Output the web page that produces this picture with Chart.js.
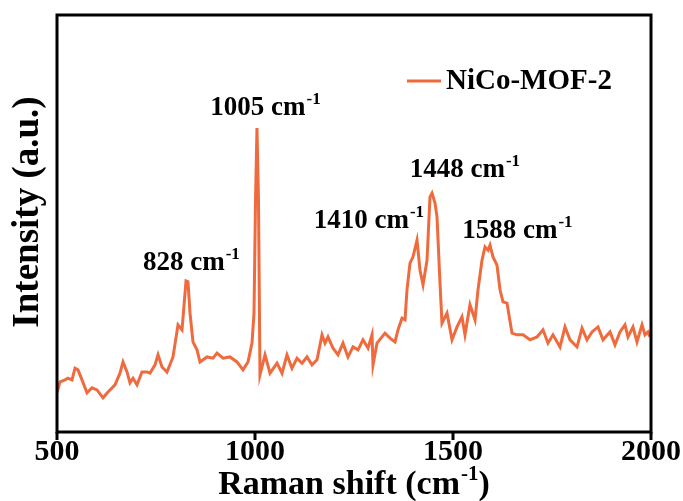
<!DOCTYPE html>
<html>
<head>
<meta charset="utf-8">
<script src="https://cdn.jsdelivr.net/npm/chart.js@4.4.1/dist/chart.umd.min.js"></script>
<style>
  html, body { margin: 0; padding: 0; background: #ffffff; }
  #wrap { width: 683px; height: 501px; position: relative; }
</style>
</head>
<body>
<div id="wrap"><canvas id="c" width="683" height="501"></canvas></div>
<script>
// ---- data ----
const seriesName = 'NiCo-MOF-2';
const ramanShift = [
  500, 507.6, 520.2, 527.8, 537.9, 545.5, 553.0, 563.1, 575.8, 588.4,
  601.0, 616.2, 628.8, 646.5, 659.1, 666.7, 676.8, 684.3, 691.9, 702.0,
  714.6, 727.3, 734.8, 747.5, 755.1, 765.2, 777.8, 792.9, 805.6, 815.7,
  825.8, 830.8, 835.9, 843.4, 853.5, 861.1, 878.8, 894.0, 904.0, 919.2,
  936.9, 954.5, 969.7, 982.3, 992.4, 997.5, 1001.3, 1005, 1008.8, 1012.6,
  1025.3, 1037.9, 1055.6, 1068.2, 1080.8, 1093.4, 1106.1, 1118.7, 1131.3, 1143.9,
  1156.6, 1169.2, 1176.8, 1184.3, 1197.0, 1209.6, 1222.2, 1234.8, 1247.5, 1260.1,
  1272.7, 1285.4, 1295.5, 1298.0, 1308.1, 1320.7, 1328.3, 1340.9, 1353.5, 1361.1,
  1371.2, 1378.8, 1383.8, 1391.4, 1399.0, 1409.1, 1416.7, 1424.3, 1434.4, 1441.9,
  1447.0, 1454.5, 1459.6, 1467.2, 1472.2, 1484.9, 1497.5, 1510.1, 1522.7, 1530.3,
  1542.9, 1555.6, 1563.1, 1573.2, 1580.8, 1588.4, 1593.4, 1601.0, 1611.1, 1618.7,
  1626.3, 1636.4, 1649.0, 1661.6, 1676.8, 1694.5, 1712.1, 1727.3, 1739.9, 1752.5,
  1770.2, 1782.8, 1795.5, 1813.2, 1825.8, 1838.4, 1851.0, 1866.2, 1878.8, 1896.5,
  1909.1, 1921.7, 1934.3, 1941.9, 1954.5, 1964.6, 1977.3, 1984.8, 1992.4, 1997.5
];
const intensity = [
  9.4, 12.0, 12.5, 12.9, 12.5, 15.3, 14.9, 12.5, 9.4, 10.6,
  10.1, 8.2, 9.6, 11.3, 14.1, 16.8, 14.4, 11.8, 12.9, 11.3,
  14.4, 14.4, 14.1, 16.1, 18.5, 15.6, 14.4, 18.0, 25.7, 24.5,
  36.2, 36.0, 28.5, 21.6, 19.7, 16.8, 18.0, 17.7, 18.9, 17.7,
  18.0, 16.8, 14.9, 16.8, 21.3, 28.5, 55.6, 72.9, 55.6, 13.7,
  18.5, 14.1, 16.5, 14.1, 18.5, 15.3, 17.7, 16.5, 18.0, 16.1,
  17.3, 23.3, 21.3, 22.8, 20.1, 18.5, 21.3, 18.0, 20.4, 19.7,
  22.1, 20.1, 23.3, 16.1, 21.3, 22.8, 23.7, 22.5, 21.6, 24.5,
  27.3, 26.9, 34.1, 40.5, 42.0, 46.0, 38.8, 35.3, 41.2, 56.4,
  57.3, 54.9, 51.6, 35.7, 26.1, 28.5, 22.1, 25.2, 27.6, 23.3,
  30.5, 26.9, 34.1, 41.2, 44.4, 43.6, 44.8, 42.0, 40.0, 34.1,
  31.2, 30.9, 23.7, 23.3, 23.3, 22.1, 22.8, 24.5, 21.3, 23.3,
  20.4, 25.2, 22.1, 20.4, 24.9, 22.1, 24.0, 25.2, 22.1, 24.0,
  20.9, 24.0, 25.7, 22.8, 25.2, 21.6, 25.7, 23.3, 24.0, 22.8
];
const xTicks = [500, 1000, 1500, 2000];
const peakShifts = [828, 1005, 1410, 1448, 1588];
const peakLabels = ['828 cm', '1005 cm', '1410 cm', '1448 cm', '1588 cm'];
const xTitle = 'Raman shift (cm';
const yTitle = 'Intensity (a.u.)';

// ---- styling ----
const lineColor = '#EF6A3D';
const serif = '"Liberation Serif", "Times New Roman", serif';
// pixel offsets of each peak label from its peak top (dx to label centre, dy to baseline)
const labelOffsets = [[4, -11], [8, -13], [-49, -12], [32, -16], [29, -7]];

function drawSup(ctx, base, sup, x, y, size, align) {
  ctx.font = 'bold ' + size + 'px ' + serif;
  const wb = ctx.measureText(base).width;
  const ssize = Math.round(size * 0.62);
  ctx.font = 'bold ' + ssize + 'px ' + serif;
  const ws = ctx.measureText(sup).width;
  let x0 = x;
  if (align === 'center') x0 = x - (wb + ws) / 2;
  if (align === 'right') x0 = x - (wb + ws);
  ctx.textAlign = 'left';
  ctx.textBaseline = 'alphabetic';
  ctx.fillStyle = '#000';
  ctx.font = 'bold ' + size + 'px ' + serif;
  ctx.fillText(base, x0, y);
  ctx.font = 'bold ' + ssize + 'px ' + serif;
  ctx.fillText(sup, x0 + wb + 1, y - size * 0.42);
  return x0 + wb + ws + 1;
}

const decor = {
  id: 'decor',
  beforeDraw(chart) {
    const ctx = chart.ctx;
    ctx.save();
    ctx.fillStyle = '#fff';
    ctx.fillRect(0, 0, chart.width, chart.height);
    ctx.restore();
  },
  afterDraw(chart) {
    const ctx = chart.ctx;
    const a = chart.chartArea;
    const xs = chart.scales.x, ys = chart.scales.y;
    ctx.save();
    // frame
    ctx.strokeStyle = '#000';
    ctx.lineWidth = 3;
    ctx.strokeRect(a.left, a.top, a.right - a.left, a.bottom - a.top);
    // tick marks (outward)
    xTicks.forEach(v => {
      const px = xs.getPixelForValue(v);
      ctx.beginPath();
      ctx.moveTo(px, a.bottom);
      ctx.lineTo(px, a.bottom + 8);
      ctx.stroke();
    });
    // x title
    const tSize = 34, sSize = Math.round(34 * 0.62);
    ctx.font = 'bold ' + tSize + 'px ' + serif;
    const wb = ctx.measureText(xTitle).width;
    const wp = ctx.measureText(')').width;
    ctx.font = 'bold ' + sSize + 'px ' + serif;
    const ws = ctx.measureText('-1').width;
    const total = wb + ws + 1 + wp;
    const cx = (a.left + a.right) / 2;
    const endX = drawSup(ctx, xTitle, '-1', cx - total / 2, 494, tSize, 'left');
    ctx.font = 'bold ' + tSize + 'px ' + serif;
    ctx.fillText(')', endX, 494);
    // y title
    ctx.save();
    ctx.translate(38, 212);
    ctx.rotate(-Math.PI / 2);
    ctx.font = 'bold 37px ' + serif;
    ctx.textAlign = 'center';
    ctx.textBaseline = 'alphabetic';
    ctx.fillStyle = '#000';
    ctx.fillText(yTitle, 0, 0);
    ctx.restore();
    // peak labels
    peakShifts.forEach((s, i) => {
      let best = -Infinity;
      ramanShift.forEach((r, j) => {
        if (Math.abs(r - s) <= 8 && intensity[j] > best) best = intensity[j];
      });
      const px = xs.getPixelForValue(s) + labelOffsets[i][0];
      const py = ys.getPixelForValue(best) + labelOffsets[i][1];
      drawSup(ctx, peakLabels[i], '-1', px, py, 27, 'center');
    });
    // legend
    const ds = chart.data.datasets[0];
    ctx.strokeStyle = ds.borderColor;
    ctx.lineWidth = 3;
    ctx.beginPath();
    ctx.moveTo(407, 81);
    ctx.lineTo(441, 81);
    ctx.stroke();
    ctx.fillStyle = '#000';
    ctx.font = 'bold 29px ' + serif;
    ctx.textAlign = 'left';
    ctx.textBaseline = 'middle';
    ctx.fillText(ds.label, 446, 82);
    ctx.restore();
  }
};

new Chart(document.getElementById('c'), {
  type: 'line',
  data: {
    datasets: [{
      label: seriesName,
      data: ramanShift.map((x, i) => ({ x: x, y: intensity[i] })),
      borderColor: lineColor,
      borderWidth: 3,
      pointRadius: 0,
      tension: 0,
      fill: false
    }]
  },
  options: {
    responsive: false,
    animation: false,
    layout: { padding: { left: 57, right: 32, top: 15, bottom: 0 } },
    plugins: { legend: { display: false }, tooltip: { enabled: false } },
    scales: {
      x: {
        type: 'linear',
        min: 500, max: 2000,
        afterBuildTicks: s => { s.ticks = xTicks.map(v => ({ value: v })); },
        afterFit: s => { s.height = 69; s.paddingLeft = 0; s.paddingRight = 0; },
        grid: { display: false, drawTicks: false },
        border: { display: false },
        ticks: {
          color: '#000',
          padding: 2,
          maxRotation: 0,
          callback: v => String(v),
          font: { family: serif, size: 30, weight: 'bold' }
        }
      },
      y: {
        display: false,
        min: 0, max: 100
      }
    }
  },
  plugins: [decor]
});
</script>
</body>
</html>
